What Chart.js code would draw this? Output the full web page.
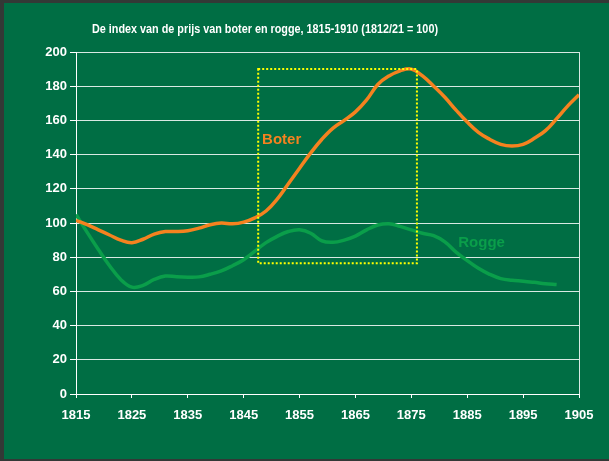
<!DOCTYPE html>
<html>
<head>
<meta charset="utf-8">
<script src="https://cdn.jsdelivr.net/npm/chart.js@4/dist/chart.umd.min.js"></script>
<style>
  body { margin: 0; background: #333836; width: 609px; height: 461px; overflow: hidden; }
  #wrap { position: absolute; left: 4px; top: 3px; width: 605px; height: 456px; background: #006e44; }
</style>
</head>
<body>
<div id="wrap"><canvas id="chart" width="605" height="456"></canvas></div>
<script>
var titleText = "De index van de prijs van boter en rogge, 1815-1910 (1812/21 = 100)";
var years = [1815, 1817, 1819, 1821, 1823, 1825, 1827, 1829, 1831, 1833, 1835, 1837, 1839, 1841, 1843, 1845,
  1847, 1849, 1851, 1853, 1855, 1857, 1859, 1861, 1863, 1865, 1867, 1869, 1871, 1873, 1875, 1877,
  1879, 1881, 1883, 1885, 1887, 1889, 1891, 1893, 1895, 1897, 1899, 1901, 1903, 1905];
var boter = [101.5, 99, 96, 93, 90, 88.5, 90.5, 93.5, 95, 95, 95.5, 97, 99, 100, 99.5, 100.5,
  103, 107, 114, 123, 132, 141, 149, 155.5, 160, 165, 172, 181, 186, 189, 190, 186,
  180, 173.5, 166, 159, 153, 149, 146, 145, 146, 149.5, 154, 161, 168.5, 175];
var rogge = [105, 94.5, 84.5, 75, 67, 62.5, 63.5, 67, 69, 68.5, 68.3, 68.5, 70, 72, 75, 78.5,
  83.5, 88.5, 92.2, 95, 96, 94, 89.5, 88.7, 90, 92.3, 96, 98.8, 99.6, 98, 96, 94,
  92.6, 89, 83, 78, 73.5, 70, 67.5, 66.5, 66, 65.3, 64.5, 64, null, null];
var xTicks = [1815, 1825, 1835, 1845, 1855, 1865, 1875, 1885, 1895, 1905];
var yTicks = [0, 20, 40, 60, 80, 100, 120, 140, 160, 180, 200];
// gestippelde kader (jaren / index)
var boxYears = [1847.6, 1876];
var boxValues = [76.5, 190];
// plaats van de labels (jaar, index)
var labelBoter = [1848.3, 148.5];
var labelRogge = [1883.4, 88.5];

var fontFam = "'Liberation Sans Narrow', 'Liberation Sans', Arial, sans-serif";
var oranje = '#f5821f';
var groen = '#0a9e4a';

function pts(vals) {
  var out = [];
  for (var i = 0; i < years.length; i++) {
    if (vals[i] !== null) out.push({ x: years[i], y: vals[i] });
  }
  return out;
}

var extras = {
  id: 'extras',
  afterDatasetsDraw: function(chart) {
    var ctx = chart.ctx, a = chart.chartArea;
    var sx = chart.scales.x, sy = chart.scales.y;
    ctx.save();
    // rechterrand
    ctx.strokeStyle = 'rgba(255,255,255,0.85)';
    ctx.lineWidth = 1;
    ctx.beginPath();
    ctx.moveTo(a.right + 0.5, a.top);
    ctx.lineTo(a.right + 0.5, a.bottom);
    ctx.stroke();
    // gestippeld kader
    var x0 = sx.getPixelForValue(boxYears[0]), x1 = sx.getPixelForValue(boxYears[1]);
    var y0 = sy.getPixelForValue(boxValues[1]), y1 = sy.getPixelForValue(boxValues[0]);
    ctx.strokeStyle = '#ffff00';
    ctx.lineWidth = 2;
    ctx.setLineDash([2, 2]);
    ctx.strokeRect(x0, y0, x1 - x0, y1 - y0);
    ctx.setLineDash([]);
    // labels
    ctx.font = 'bold 15px ' + fontFam;
    ctx.textAlign = 'left';
    ctx.textBaseline = 'middle';
    ctx.fillStyle = oranje;
    ctx.fillText('Boter', sx.getPixelForValue(labelBoter[0]), sy.getPixelForValue(labelBoter[1]));
    ctx.fillStyle = groen;
    ctx.fillText('Rogge', sx.getPixelForValue(labelRogge[0]), sy.getPixelForValue(labelRogge[1]));
    // titel
    ctx.fillStyle = '#ffffff';
    ctx.font = 'bold 12px ' + fontFam;
    ctx.textAlign = 'center';
    ctx.fillText(titleText, 261, 27, 346);
    ctx.restore();
  }
};

new Chart(document.getElementById('chart'), {
  type: 'line',
  data: {
    datasets: [
      { label: 'Boter', data: pts(boter), borderColor: oranje, borderWidth: 3.5, pointRadius: 0, tension: 0.4, fill: false },
      { label: 'Rogge', data: pts(rogge), borderColor: groen, borderWidth: 3.5, pointRadius: 0, tension: 0.4, fill: false }
    ]
  },
  options: {
    responsive: false,
    animation: false,
    layout: { padding: { top: 49, right: 30, left: 0, bottom: 0 } },
    plugins: { legend: { display: false }, title: { display: false }, tooltip: { enabled: false } },
    scales: {
      x: {
        type: 'linear', min: 1815, max: 1905,
        afterBuildTicks: function(s) { s.ticks = xTicks.map(function(v) { return { value: v }; }); },
        afterFit: function(s) { s.height = 65; },
        grid: { drawOnChartArea: false, tickLength: 4, tickColor: '#ffffff' },
        border: { color: '#ffffff', width: 1 },
        ticks: {
          color: '#ffffff', font: { family: fontFam, size: 13, weight: 'bold' }, padding: 10, maxRotation: 0, autoSkip: false,
          callback: function(v) { return String(v); }
        }
      },
      y: {
        min: 0, max: 200,
        afterBuildTicks: function(s) { s.ticks = yTicks.map(function(v) { return { value: v }; }); },
        afterFit: function(s) { s.width = 72; },
        grid: { color: 'rgba(255,255,255,0.85)', tickLength: 6, tickColor: '#ffffff' },
        border: { color: '#ffffff', width: 1 },
        ticks: { color: '#ffffff', font: { family: fontFam, size: 13, weight: 'bold' }, padding: 3 }
      }
    }
  },
  plugins: [extras]
});
</script>
</body>
</html>
